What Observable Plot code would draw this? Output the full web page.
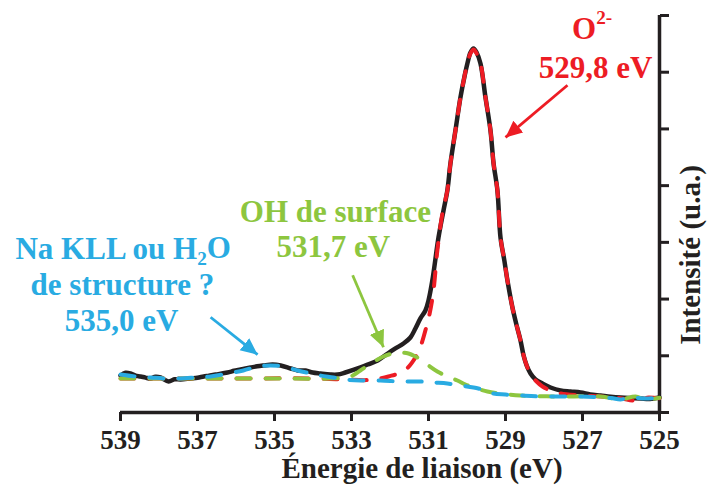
<!DOCTYPE html>
<html><head><meta charset="utf-8">
<script src="https://cdn.jsdelivr.net/npm/d3@7"></script>
<script src="https://cdn.jsdelivr.net/npm/@observablehq/plot@0.6"></script>
<style>body{margin:0;background:#fff;}</style>
</head><body><div id="chart"></div>
<script>
// ---- axis ticks ----
const energyTicks = [539, 537, 535, 533, 531, 529, 527, 525];
const intensityTicks = [0, 1, 2, 3, 4, 5, 6, 7];

// ---- measured spectrum (black) ----
const spectrumEV = [539.00,538.87,538.74,538.61,538.48,538.35,538.22,538.09,537.96,537.75,537.60,537.44,537.18,537.00,536.84,536.70,536.53,536.22,536.05,535.88,535.62,535.45,535.29,535.05,534.84,534.58,534.40,534.19,534.01,533.81,533.55,533.36,533.16,532.84,532.58,532.32,532.06,531.86,531.65,531.47,531.34,531.21,531.08,531.00,530.90,530.74,530.61,530.51,530.43,530.30,530.17,530.06,529.99,529.91,529.83,529.75,529.65,529.52,529.39,529.31,529.21,529.13,529.03,528.95,528.82,528.71,528.61,528.53,528.45,528.35,528.22,528.04,527.83,527.57,527.31,527.05,526.80,526.53,526.27,526.01,525.75,525.49,525.25,525.00];
const spectrumI  = [0.652,0.700,0.688,0.650,0.635,0.615,0.600,0.630,0.617,0.547,0.585,0.582,0.600,0.612,0.635,0.650,0.670,0.705,0.735,0.758,0.794,0.815,0.829,0.846,0.829,0.776,0.741,0.741,0.705,0.688,0.670,0.670,0.705,0.776,0.846,0.917,1.040,1.129,1.217,1.323,1.481,1.658,1.799,1.975,2.328,3.086,3.562,3.915,4.391,4.973,5.555,5.943,6.154,6.348,6.419,6.348,6.154,5.555,4.973,4.391,3.915,3.086,2.680,2.328,1.852,1.534,1.270,1.005,0.829,0.688,0.582,0.511,0.441,0.388,0.370,0.353,0.320,0.300,0.280,0.265,0.255,0.247,0.240,0.265];

// ---- fitted components ----
const o2EV = [539.00,536.00,534.00,533.20,532.50,532.04,531.62,531.31,531.18,531.06,530.97,530.87,530.77,530.64,530.51,530.43,530.30,530.17,530.06,529.99,529.91,529.83,529.75,529.65,529.52,529.39,529.31,529.21,529.13,529.03,528.95,528.82,528.71,528.61,528.53,528.45,528.35,528.22,528.04,527.83,527.57,527.05,526.53,526.01,525.62,525.36,525.00];
const o2I  = [0.600,0.600,0.600,0.582,0.575,0.635,0.741,1.005,1.217,1.499,1.746,2.151,2.857,3.509,3.915,4.391,4.973,5.555,5.943,6.154,6.330,6.400,6.330,6.154,5.555,4.973,4.391,3.915,3.086,2.680,2.328,1.852,1.534,1.270,1.005,0.829,0.670,0.564,0.458,0.388,0.335,0.300,0.282,0.250,0.210,0.260,0.250];

const ohEV = [539.00,537.00,535.00,533.60,533.03,532.77,532.45,532.17,531.94,531.73,531.52,531.34,531.21,531.00,530.77,530.51,530.25,530.04,529.83,529.47,529.13,528.61,527.57,526.53,526.01,525.62,525.36,525.18,525.00];
const ohI  = [0.600,0.600,0.600,0.600,0.635,0.741,0.882,0.987,1.040,1.058,1.040,0.987,0.935,0.829,0.723,0.635,0.564,0.494,0.441,0.370,0.335,0.300,0.282,0.282,0.230,0.280,0.220,0.240,0.260];

const naEV = [539.00,538.61,538.22,537.83,537.44,537.05,536.66,536.22,535.81,535.44,535.10,534.77,534.40,534.06,533.81,533.47,533.16,532.77,532.25,531.73,531.21,530.87,530.51,530.17,529.83,529.52,529.31,529.00,528.61,528.09,527.05,526.27,526.01,525.75,525.36,525.00];
const naI  = [0.670,0.635,0.617,0.600,0.600,0.617,0.635,0.688,0.741,0.811,0.829,0.811,0.741,0.688,0.652,0.617,0.582,0.564,0.564,0.547,0.547,0.529,0.511,0.476,0.441,0.388,0.335,0.317,0.300,0.282,0.282,0.255,0.230,0.265,0.245,0.265];

// ---- annotations ----
const labelText  = ["O2-", "529,8 eV", "OH de surface", "531,7 eV", "Na KLL ou H2O", "de structure ?", "535,0 eV"];
const labelEV    = [526.75, 526.66, 533.42, 533.47, 538.93, 538.95, 538.97];
const labelI     = [6.76, 6.08, 3.54, 2.91, 2.89, 2.24, 1.62];
const labelColor = ["#ed1c24", "#ed1c24", "#8dc63f", "#8dc63f", "#29abe2", "#29abe2", "#29abe2"];

const arrowEV1 = [527.39, 532.97, 536.66];
const arrowI1  = [5.77, 2.42, 1.68];
const arrowEV2 = [529.00, 532.17, 535.44];
const arrowI2  = [4.85, 1.15, 1.02];
const arrowColor = ["#ed1c24", "#8dc63f", "#29abe2"];

const rows = (xs, ys) => xs.map((x, i) => ({x, y: ys[i]}));
const spectrum = rows(spectrumEV, spectrumI);
const o2 = rows(o2EV, o2I), oh = rows(ohEV, ohI), na = rows(naEV, naI);
const labels = labelText.map((t, i) => ({t, x: labelEV[i], y: labelI[i], c: labelColor[i]}));
const arrows = arrowColor.map((c, i) => ({x1: arrowEV1[i], y1: arrowI1[i], x2: arrowEV2[i], y2: arrowI2[i], c}));

const black = "#231f20";
const dash = "14,15";

const chart = Plot.plot({
  width: 709, height: 495,
  marginLeft: 120, marginRight: 50, marginTop: 15, marginBottom: 83,
  style: {fontFamily: "'Liberation Serif','Times New Roman',serif", fontWeight: "bold", background: "#fff", color: black, overflow: "visible"},
  x: {domain: [539, 525]},
  y: {domain: [0, 7]},
  marks: [
    Plot.axisX({ticks: energyTicks, tickSize: 9, tickPadding: 8, fontSize: 27, strokeWidth: 3, label: null, tickFormat: d => String(d)}),
    Plot.axisY({anchor: "right", ticks: intensityTicks, tickSize: 9, strokeWidth: 3, tickFormat: () => "", label: null}),
    Plot.ruleY([0], {stroke: black, strokeWidth: 3.5}),
    Plot.ruleX([525], {stroke: black, strokeWidth: 3.5}),
    Plot.line(spectrum, {x: "x", y: "y", stroke: black, strokeWidth: 4.5, curve: "catmull-rom"}),
    Plot.line(o2, {x: "x", y: "y", stroke: "#ed1c24", strokeWidth: 4, strokeDasharray: dash, strokeLinecap: "round", curve: "catmull-rom"}),
    Plot.line(oh, {x: "x", y: "y", stroke: "#8dc63f", strokeWidth: 4, strokeDasharray: dash, strokeLinecap: "round", curve: "catmull-rom"}),
    Plot.line(na, {x: "x", y: "y", stroke: "#29abe2", strokeWidth: 4, strokeDasharray: dash, strokeLinecap: "round", curve: "catmull-rom"}),
    ...arrowColor.map(c => Plot.link(arrows.filter(a => a.c === c), {x1: "x1", y1: "y1", x2: "x2", y2: "y2", stroke: c, strokeWidth: 2.8, markerEnd: "arrow"})),
    Plot.text(labels, {x: "x", y: "y", text: "t", fill: "c", fontSize: 31, textAnchor: "middle", lineAnchor: "middle"}),
    Plot.text(["Énergie de liaison (eV)"], {frameAnchor: "bottom", dx: 32, dy: 56, fontSize: 29, textAnchor: "middle", lineAnchor: "middle", fill: black}),
    Plot.text(["Intensité (u.a.)"], {frameAnchor: "right", dx: 31, dy: 41, rotate: -90, fontSize: 29, textAnchor: "middle", lineAnchor: "middle", fill: black})
  ]
});

const svg = d3.select(chart);
// filled triangular arrow heads
svg.selectAll("marker").each(function () {
  const m = d3.select(this);
  const color = m.attr("stroke");
  m.attr("viewBox", "-10 -5 10 10").attr("markerWidth", 6).attr("markerHeight", 6)
   .attr("refX", 0).attr("refY", 0).attr("fill", color).attr("stroke", "none");
  m.selectAll("*").remove();
  m.append("path").attr("d", "M-10,-4.6L0,0L-10,4.6Z");
});
// sub/superscripts
svg.selectAll("text").each(function () {
  const t = d3.select(this);
  const s = this.textContent;
  if (s === "Na KLL ou H2O") {
    t.text("Na KLL ou H");
    t.append("tspan").attr("font-size", "0.62em").attr("dy", "0.32em").text("2");
    t.append("tspan").attr("dy", "-0.2em").text("O");
  } else if (s === "O2-") {
    t.text("O");
    t.append("tspan").attr("font-size", "0.62em").attr("dy", "-0.78em").text("2-");
  }
});
document.getElementById("chart").appendChild(chart);
</script>
</body></html>
